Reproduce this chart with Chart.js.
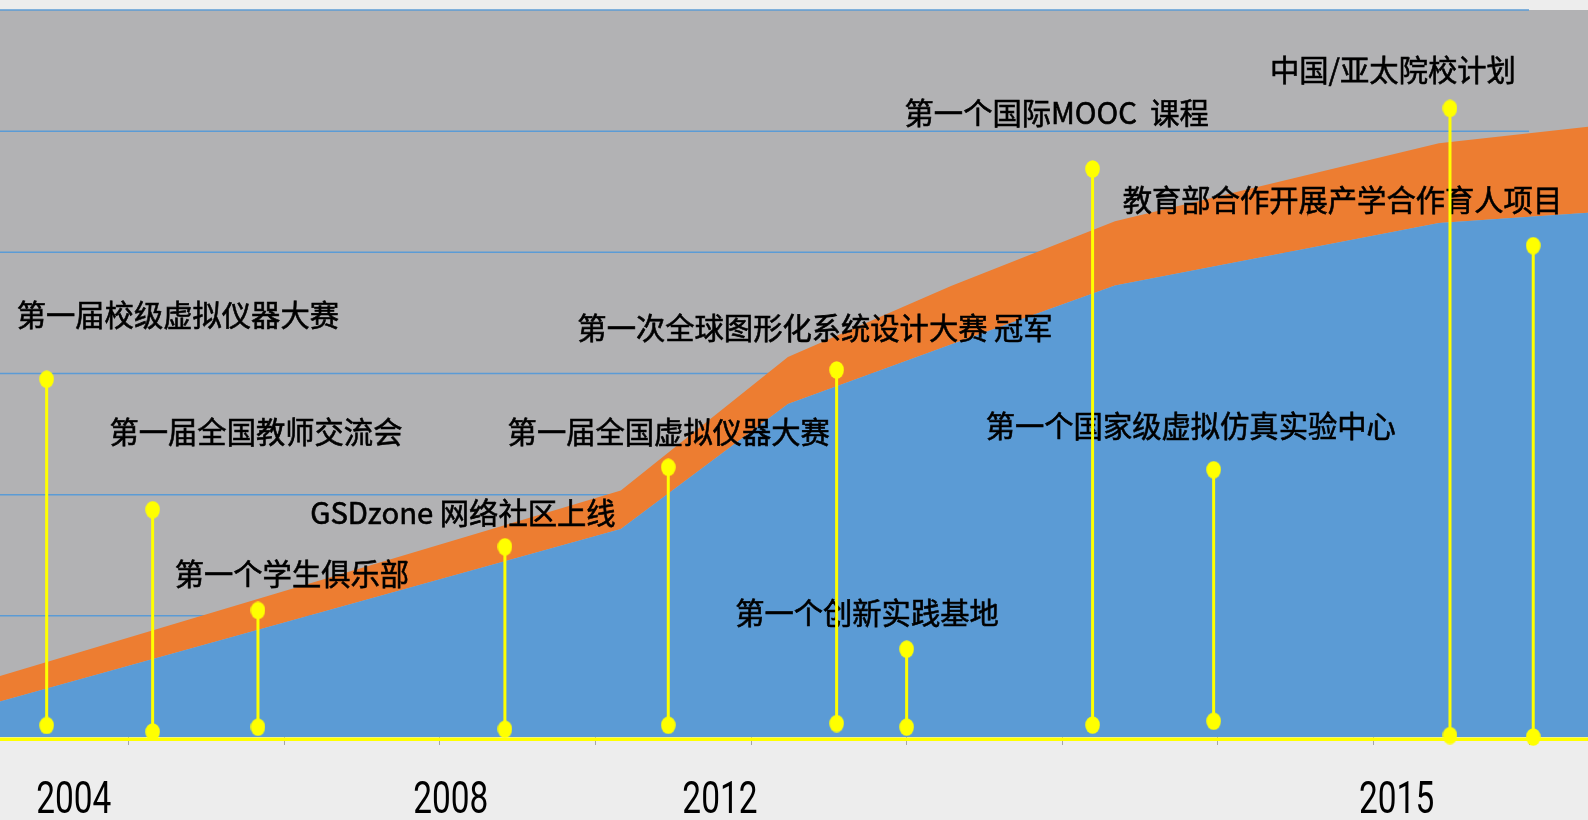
<!DOCTYPE html>
<html lang="zh-CN">
<head>
<meta charset="utf-8">
<title>发展历程</title>
<script src="https://cdn.jsdelivr.net/npm/chart.js@4.4.1/dist/chart.umd.min.js"></script>
<style>
  html, body { margin: 0; padding: 0; background: #ededed; }
  #wrap { width: 1588px; height: 820px; }
</style>
</head>
<body>
<div id="wrap"><canvas id="timeline" width="1588" height="820"></canvas></div>
<script>
// x is measured in tick steps: 0 = first tick mark on the axis, 1 = the next, ...
const X_MIN = -0.827;
const X_MAX = 9.379;
const tickMarks = [0, 1, 2, 3, 4, 5, 6, 7, 8, 9];
const gridLevels = [1, 2, 3, 4, 5, 6];

// growth band: blue base + orange band stacked on top
const areaX    = [-0.827, 3.163, 4.237, 5.285, 6.339, 8.421, 9.379];
const baseVals = [0.292, 1.716, 2.749, 3.239, 3.727, 4.243, 4.326];
const bandVals = [0.211, 0.318, 0.388, 0.484, 0.529, 0.657, 0.710];

// milestones (stem from low to high)
const eventNames = [
  '第一届校级虚拟仪器大赛',
  '第一届全国教师交流会',
  '第一个学生俱乐部',
  'GSDzone 网络社区上线',
  '第一届全国虚拟仪器大赛',
  '第一次全球图形化系统设计大赛 冠军',
  '第一个创新实践基地',
  '第一个国际MOOC  课程',
  '第一个国家级虚拟仿真实验中心',
  '中国/亚太院校计划',
  '教育部合作开展产学合作育人项目'
];
const eventX    = [-0.527, 0.154, 0.831, 2.418, 3.468, 4.550, 5.000, 6.195, 6.973, 8.492, 9.027];
const eventLow  = [0.095, 0.042, 0.081, 0.064, 0.097, 0.111, 0.082, 0.099, 0.130, 0.012, 0.000];
const eventHigh = [2.953, 1.876, 1.045, 1.570, 2.226, 3.029, 0.725, 4.688, 2.206, 5.188, 4.055];
const labelX    = [0.316, 0.818, 1.049, 2.148, 3.471, 4.411, 4.745, 5.964, 6.826, 8.125, 7.801];
const labelY    = [3.484, 2.520, 1.345, 1.848, 2.520, 3.380, 1.025, 5.155, 2.567, 5.505, 4.433];

const yearLabels = ['2004', '2008', '2012', '2015'];
const yearX      = [-0.353, 2.070, 3.800, 8.149];

const YELLOW = '#ffff00';

// slightly tall oval used as the stem end marker
const dot = document.createElement('canvas');
dot.width = 15; dot.height = 18;
(() => {
  const c = dot.getContext('2d');
  c.fillStyle = YELLOW;
  c.beginPath();
  c.ellipse(7.5, 9, 7.3, 8.7, 0, 0, Math.PI * 2);
  c.fill();
})();

const stemPoints = eventX.flatMap((x, i) => [
  { x, y: eventLow[i] }, { x, y: eventHigh[i] }, { x, y: null }
]);

const timelinePlugin = {
  id: 'timelineDecor',
  beforeDraw(chart) {
    const { ctx, chartArea: a } = chart;
    ctx.save();
    ctx.fillStyle = '#b2b2b4';
    ctx.fillRect(a.left, a.top, a.right - a.left, a.bottom - a.top);
    ctx.restore();
  },
  beforeDatasetsDraw(chart) {
    const { ctx, scales } = chart;
    const right = scales.x.getPixelForValue(tickMarks[tickMarks.length - 1]);
    ctx.save();
    ctx.strokeStyle = '#5b9bd5';
    ctx.lineWidth = 1.5;
    gridLevels.forEach(v => {
      const y = scales.y.getPixelForValue(v);
      ctx.beginPath();
      ctx.moveTo(chart.chartArea.left, y);
      ctx.lineTo(right, y);
      ctx.stroke();
    });
    ctx.restore();
  },
  beforeDatasetDraw(chart, args) {
    if (args.index !== 0) return;
    const { ctx, scales } = chart;
    ctx.save();
    ctx.font = '29.3px "Noto Sans CJK SC", sans-serif';
    ctx.fillStyle = '#000';
    ctx.strokeStyle = '#000';
    ctx.lineWidth = 0.6;
    ctx.textAlign = 'center';
    ctx.textBaseline = 'middle';
    eventNames.forEach((name, i) => {
      const px = scales.x.getPixelForValue(labelX[i]);
      const py = scales.y.getPixelForValue(labelY[i]);
      ctx.fillText(name, px, py);
      ctx.strokeText(name, px, py);
    });
    ctx.restore();
  },
  afterDatasetsDraw(chart) {
    const { ctx, chartArea: a, scales } = chart;
    ctx.save();
    ctx.strokeStyle = YELLOW;
    ctx.lineWidth = 3.5;
    ctx.beginPath();
    ctx.moveTo(0, a.bottom + 2.2);
    ctx.lineTo(chart.width, a.bottom + 2.2);
    ctx.stroke();

    // year captions under the axis, in a narrow face
    ctx.font = '44px Roboto, "Liberation Sans", sans-serif';
    ctx.fillStyle = '#000';
    ctx.textAlign = 'center';
    ctx.textBaseline = 'middle';
    yearLabels.forEach((t, i) => {
      ctx.save();
      ctx.translate(scales.x.getPixelForValue(yearX[i]), a.bottom + 65);
      ctx.scale(0.76, 1);
      ctx.fillText(t, 0, 0);
      ctx.restore();
    });
    ctx.restore();
  }
};

new Chart(document.getElementById('timeline'), {
  type: 'line',
  data: {
    datasets: [
      {
        label: '里程碑',
        data: stemPoints,
        stack: 'events',
        borderColor: YELLOW,
        borderWidth: 3,
        pointStyle: dot,
        pointRadius: 8,
        spanGaps: false,
        fill: false,
        clip: false
      },
      {
        label: '基础',
        data: areaX.map((x, i) => ({ x, y: baseVals[i] })),
        stack: 'area',
        backgroundColor: '#5b9bd5',
        borderWidth: 0,
        pointRadius: 0,
        fill: 'origin'
      },
      {
        label: '增长',
        data: areaX.map((x, i) => ({ x, y: bandVals[i] })),
        stack: 'area',
        backgroundColor: '#ed7d31',
        borderWidth: 0,
        pointRadius: 0,
        fill: '-1'
      }
    ]
  },
  options: {
    responsive: false,
    animation: false,
    devicePixelRatio: 1,
    layout: { autoPadding: false, padding: { top: 10, left: 0, right: 0, bottom: 75 } },
    plugins: { legend: { display: false }, tooltip: { enabled: false } },
    elements: { line: { tension: 0 } },
    scales: {
      x: {
        type: 'linear',
        min: X_MIN, max: X_MAX,
        afterBuildTicks: s => { s.ticks = tickMarks.map(v => ({ value: v })); },
        afterFit: s => { s.height = 8; },
        grid: { drawOnChartArea: false, drawTicks: true, tickLength: 8, color: '#a5a5a5', lineWidth: 1 },
        border: { display: false },
        ticks: { display: false }
      },
      y: {
        display: false,
        stacked: true,
        min: 0, max: 6
      }
    }
  },
  plugins: [timelinePlugin]
});
</script>
</body>
</html>
